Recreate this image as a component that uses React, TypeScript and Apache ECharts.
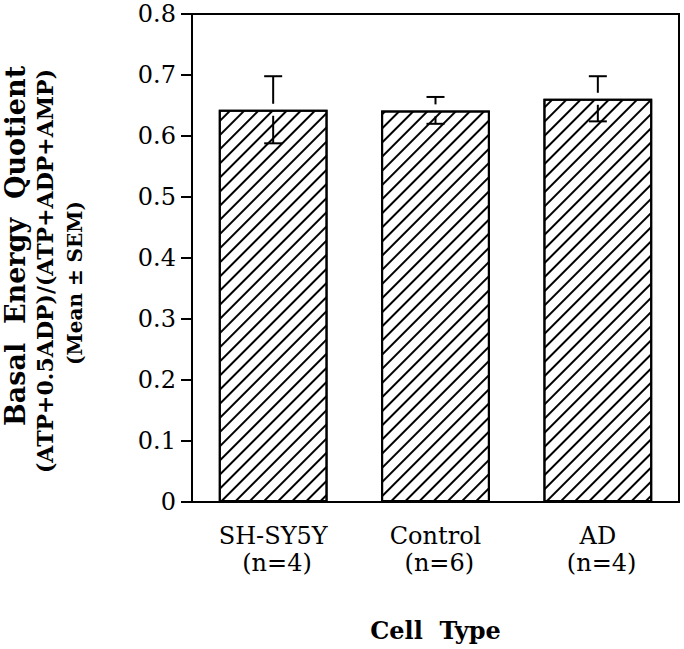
import React, { useEffect, useRef } from "react";
import * as echarts from "echarts";

const categories = ["SH-SY5Y", "Control", "AD"];
const nLabels = ["(n=4)", "(n=6)", "(n=4)"];
const means = [0.643, 0.642, 0.661];
const sems = [0.055, 0.022, 0.037];
const yTickMin = 0;
const yTickMax = 0.8;
const yTickStep = 0.1;

const FONT = "DejaVu Serif";

export default function App() {
  const ref = useRef<HTMLDivElement>(null);
  useEffect(() => {
    if (!ref.current) return;
    const chart = echarts.init(ref.current, undefined, { renderer: "svg" });
    const option: any = {
      animation: false,
      backgroundColor: "#fff",
      grid: {
        left: 192,
        right: 5,
        top: 14,
        bottom: 147,
        show: true,
        borderColor: "#000",
        borderWidth: 2,
        backgroundColor: "transparent",
      },
      xAxis: {
        type: "category",
        data: categories,
        boundaryGap: true,
        axisLine: { lineStyle: { color: "#000", width: 2 } },
        axisTick: { alignWithLabel: true, length: 10, lineStyle: { color: "#000", width: 2 } },
        axisLabel: {
          color: "#000",
          fontFamily: FONT,
          fontSize: 24,
          lineHeight: 27,
          margin: 20,
          interval: 0,
          formatter: (v: string, i: number) => v + "\n " + nLabels[i],
        },
        name: "Cell  Type",
        nameLocation: "middle",
        nameGap: 116,
        nameTextStyle: { color: "#000", fontFamily: FONT, fontSize: 24, fontWeight: "bold" },
      },
      yAxis: {
        type: "value",
        min: yTickMin,
        max: yTickMax,
        interval: yTickStep,
        splitLine: { show: false },
        axisLine: { show: true, lineStyle: { color: "#000", width: 2 } },
        axisTick: { show: true, length: 11, lineStyle: { color: "#000", width: 2 } },
        axisLabel: {
          color: "#000",
          fontFamily: FONT,
          fontSize: 24,
          margin: 16,
          formatter: (v: number) => (v === 0 ? "0" : v.toFixed(1)),
        },
      },
      graphic: [
        {
          type: "text",
          x: 15,
          y: 246,
          rotation: Math.PI / 2,
          style: {
            text: "Basal  Energy  Quotient",
            fontFamily: FONT,
            fontSize: 27,
            fontWeight: "bold",
            fill: "#000",
            align: "center",
            verticalAlign: "middle",
          },
        },
        {
          type: "text",
          x: 45,
          y: 271,
          rotation: Math.PI / 2,
          style: {
            text: "(ATP+0.5ADP)/(ATP+ADP+AMP)",
            fontFamily: FONT,
            fontSize: 22,
            fontWeight: "bold",
            fill: "#000",
            align: "center",
            verticalAlign: "middle",
          },
        },
        {
          type: "text",
          x: 75,
          y: 283,
          rotation: Math.PI / 2,
          style: {
            text: "(Mean ± SEM)",
            fontFamily: FONT,
            fontSize: 20,
            fontWeight: "bold",
            fill: "#000",
            align: "center",
            verticalAlign: "middle",
          },
        },
      ],
      series: [
        {
          type: "bar",
          data: means,
          barWidth: "67%",
          itemStyle: {
            color: "#fff",
            borderColor: "#000",
            borderWidth: 2,
            decal: {
              symbol: "rect",
              color: "#000",
              dashArrayX: [1, 0],
              dashArrayY: [1.6, 7.5],
              rotation: -Math.PI / 4,
            },
          },
          z: 2,
        },
        {
          type: "custom",
          z: 5,
          data: means.map((m, i) => [i, m, sems[i]]),
          encode: { x: 0, y: 1 },
          renderItem: (params: any, api: any) => {
            const x = api.value(0);
            const m = api.value(1);
            const s = api.value(2);
            const top = api.coord([x, m + s]);
            const mid = api.coord([x, m]);
            const bot = api.coord([x, m - s]);
            const cap = 9;
            const gap = 6;
            const st = { stroke: "#000", lineWidth: 2 };
            return {
              type: "group",
              children: [
                { type: "line", shape: { x1: top[0], y1: top[1], x2: top[0], y2: mid[1] - gap }, style: st },
                { type: "line", shape: { x1: top[0] - cap, y1: top[1], x2: top[0] + cap, y2: top[1] }, style: st },
                { type: "line", shape: { x1: bot[0], y1: mid[1] + gap, x2: bot[0], y2: bot[1] }, style: st },
                { type: "line", shape: { x1: bot[0] - cap, y1: bot[1], x2: bot[0] + cap, y2: bot[1] }, style: st },
              ],
            };
          },
        },
      ],
    };
    chart.setOption(option);
    return () => chart.dispose();
  }, []);
  return (
    <div
      ref={ref}
      style={{ position: "fixed", left: 0, top: 0, width: 684, height: 649, background: "#fff" }}
    />
  );
}
